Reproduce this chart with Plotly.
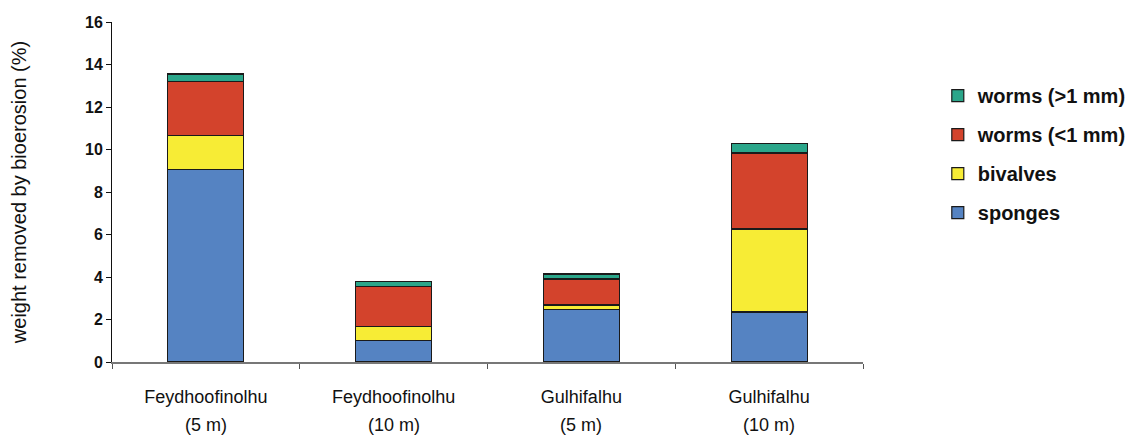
import plotly.graph_objects as go

sites = ["Feydhoofinolhu", "Feydhoofinolhu", "Gulhifalhu", "Gulhifalhu"]
depths = ["(5 m)", "(10 m)", "(5 m)", "(10 m)"]
categories = ["F5", "F10", "G5", "G10"]

sponges = [9.05, 1.00, 2.46, 2.35]
bivalves = [1.60, 0.68, 0.22, 3.91]
worms_small = [2.55, 1.88, 1.23, 3.58]
worms_large = [0.35, 0.24, 0.23, 0.46]

series = [
    ("sponges", sponges, "#5583C2"),
    ("bivalves", bivalves, "#F7EC35"),
    ("worms (<1 mm)", worms_small, "#D3432C"),
    ("worms (>1 mm)", worms_large, "#2BA68A"),
]

FONT = "Liberation Sans, Arial, sans-serif"

fig = go.Figure()
for i, (name, vals, col) in enumerate(series):
    fig.add_trace(go.Bar(
        x=categories, y=vals, name=name,
        marker=dict(color=col, line=dict(color="#1a1a1a", width=1.2)),
        legendgroup=name, legendrank=1000 - i,
    ))

for cat, d in zip(categories, depths):
    fig.add_annotation(x=cat, y=0, xref="x", yref="paper", text=d,
                       showarrow=False, yshift=-63, yanchor="middle",
                       font=dict(family=FONT, size=18, color="#111"))

fig.update_layout(
    barmode="stack",
    bargap=0.595,
    width=1136, height=435,
    margin=dict(l=104, r=279, t=14, b=81),
    plot_bgcolor="white", paper_bgcolor="white",
    font=dict(family=FONT, size=14, color="#111"),
    showlegend=True,
    legend=dict(
        x=1.0996, y=0.841, xanchor="left", yanchor="top",
        traceorder="grouped", tracegroupgap=10,
        font=dict(family=FONT, size=20, color="#111", weight="bold"),
        itemwidth=30,
    ),
    xaxis=dict(
        tickmode="array", tickvals=categories, ticktext=sites,
        showline=True, linecolor="#777", linewidth=1.5,
        ticks="outside", tickson="boundaries", ticklen=5, tickcolor="#555",
        ticklabelstandoff=18, automargin=False,
        tickfont=dict(family=FONT, size=18, color="#111"),
        showgrid=False, zeroline=False,
    ),
    yaxis=dict(
        range=[0, 16], dtick=2, automargin=False,
        showline=True, linecolor="#111", linewidth=1,
        ticks="outside", ticklen=5, tickcolor="#111",
        tickfont=dict(family=FONT, size=16, color="#111", weight="bold"),
        showgrid=False, zeroline=False,
        title=dict(text="weight removed by bioerosion (%)",
                   font=dict(family=FONT, size=20, color="#111"), standoff=56),
    ),
)

fig.write_html("out.html")
